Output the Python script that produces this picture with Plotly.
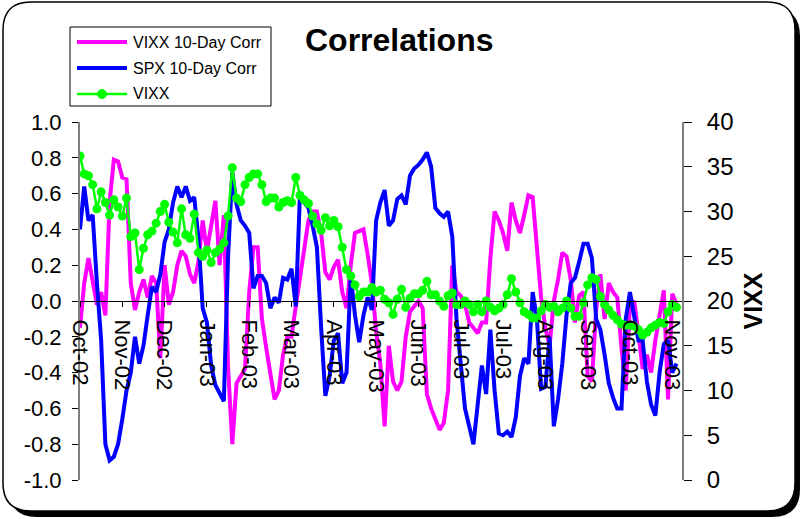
import plotly.graph_objects as go

# Category labels along the x axis (one every ten observations)
month_labels = ["Oct-02", "Nov-02", "Dec-02", "Jan-03", "Feb-03", "Mar-03", "Apr-03",
                "May-03", "Jun-03", "Jul-03", "Jul-03", "Aug-03", "Sep-03", "Oct-03", "Nov-03"]

# 10-day rolling correlations (left axis)
vixx_corr = [-0.15, 0.10, 0.24, 0.10, -0.02, 0.05, -0.08, 0.55, 0.79, 0.78,
             0.69, 0.68, 0.10, -0.05, 0.05, 0.12, 0.02, 0.14, 0.10, -0.32,
             0.20, -0.02, 0.05, 0.20, 0.28, 0.25, 0.15, 0.10, 0.22, 0.45,
             0.28, 0.42, 0.56, 0.20, 0.48, -0.37, -0.80, -0.46, -0.42, -0.38,
             0.05, 0.30, 0.30, -0.10, -0.26, -0.40, -0.55, -0.50, -0.30, -0.20,
             -0.20, -0.03, 0.13, 0.32, 0.45, 0.50, 0.50, 0.38, 0.16, 0.12,
             0.19, 0.23, 0.05, -0.04, 0.20, 0.38, 0.39, 0.40, 0.26, 0.10,
             -0.17, -0.35, -0.70, -0.25, -0.45, -0.50, -0.45, -0.20, -0.06, -0.03,
             0.00, -0.04, -0.52, -0.60, -0.66, -0.72, -0.68, -0.50, 0.20, 0.05,
             0.03, -0.02, -0.12, -0.15, -0.18, -0.12, -0.12, 0.24, 0.50, 0.45,
             0.38, 0.28, 0.55, 0.45, 0.38, 0.48, 0.59, 0.58, 0.30, 0.02,
             -0.15, -0.25, 0.00, 0.12, 0.27, 0.25, 0.12, -0.12, 0.03, 0.05,
             -0.42, -0.45, -0.05, 0.15, -0.10, 0.10, 0.05, 0.02, -0.26, -0.50,
             -0.02, 0.00, -0.18, -0.38, -0.30, -0.40, -0.22, -0.08, 0.06, -0.55,
             0.04, -0.02]

spx_corr = [0.40, 0.64, 0.45, 0.48, 0.10, -0.22, -0.80, -0.89, -0.87, -0.80,
            -0.66, -0.50, -0.40, -0.20, -0.35, -0.25, -0.08, 0.08, 0.05, 0.15,
            0.33, 0.40, 0.55, 0.64, 0.58, 0.64, 0.56, 0.58, 0.35, -0.04,
            -0.12, -0.36, -0.47, -0.52, -0.56, 0.25, 0.72, 0.54, 0.45, 0.42,
            0.38, 0.07, 0.14, 0.14, 0.10, -0.04, 0.02, -0.01, 0.13, 0.12,
            0.18, -0.03, 0.60, 0.55, 0.52, 0.42, 0.30, -0.15, -0.53, -0.42,
            -0.22, -0.18, -0.46, -0.40, 0.14, -0.08, -0.23, -0.08, 0.02, -0.05,
            0.45, 0.55, 0.62, 0.42, 0.45, 0.57, 0.59, 0.54, 0.70, 0.74,
            0.76, 0.79, 0.83, 0.75, 0.52, 0.49, 0.47, 0.50, 0.36, -0.10,
            -0.38, -0.60, -0.70, -0.80, -0.58, -0.36, -0.52, -0.16, -0.50, -0.74,
            -0.75, -0.73, -0.76, -0.65, -0.42, -0.32, -0.35, 0.05, -0.10, -0.49,
            -0.48, -0.20, -0.70, -0.55, -0.35, -0.08, 0.10, 0.13, 0.22, 0.32,
            0.32, 0.24, -0.10, -0.16, -0.30, -0.46, -0.54, -0.60, -0.60, -0.10,
            0.05, -0.10, -0.22, -0.22, -0.45, -0.58, -0.64, -0.40, -0.24, -0.22,
            -0.40, -0.35]

# VIXX level (right axis)
vixx = [36.2, 34.2, 34.0, 33.0, 30.3, 32.2, 31.0, 29.6, 31.3, 30.5,
        29.5, 31.5, 27.2, 27.6, 23.5, 25.9, 27.4, 27.8, 28.7, 30.0,
        30.8, 28.8, 27.7, 26.5, 30.3, 27.4, 27.0, 29.7, 25.4, 25.0,
        25.7, 24.3, 25.4, 25.8, 26.5, 29.5, 34.9, 31.5, 31.1, 33.0,
        33.8, 34.2, 34.2, 33.0, 31.1, 31.5, 31.5, 30.5, 31.0, 31.2,
        31.0, 33.8, 31.8, 31.3, 30.9, 29.5, 28.6, 27.9, 29.3, 28.4,
        29.0, 28.3, 26.0, 23.5, 22.8, 21.8, 20.5, 21.0, 21.0, 21.5,
        21.0, 21.2, 20.2, 19.8, 18.5, 20.2, 21.3, 19.3, 20.3, 20.8,
        20.8, 21.2, 22.2, 20.7, 20.7, 20.0, 19.4, 20.6, 20.9, 19.6,
        19.6, 20.0, 19.6, 18.8, 19.6, 18.8, 20.0, 19.3, 18.9, 19.2,
        19.6, 20.7, 22.5, 21.0, 19.8, 18.8, 18.5, 18.1, 18.1, 18.9,
        19.6, 19.3, 19.4, 18.8, 19.2, 20.0, 19.2, 18.3, 18.3, 19.8,
        21.8, 22.6, 22.4, 20.5, 19.6, 19.0, 18.4, 17.9, 17.4, 17.3,
        17.3, 17.2, 16.8, 16.2, 16.5, 17.0, 17.3, 17.6, 17.5, 18.8,
        19.6, 19.3]

left_ticks = [-1.0, -0.8, -0.6, -0.4, -0.2, 0.0, 0.2, 0.4, 0.6, 0.8, 1.0]
left_tick_text = ["-1.0", "-0.8", "-0.6", "-0.4", "-0.2", "0.0", "0.2", "0.4", "0.6", "0.8", "1.0"]
right_ticks = [0, 5, 10, 15, 20, 25, 30, 35, 40]

obs = list(range(len(spx_corr)))
label_pos = list(range(0, 10 * len(month_labels), 10))

FONT = "Liberation Sans, Arial, sans-serif"
W, H = 802, 519
L, R, T, B = 80, 682, 122, 480


def px(x):
    return (x - L) / (R - L)


def py(y):
    return (B - y) / (B - T)


def rounded_rect(x0, y0, x1, y1, r):
    pts = [("M", (x0 + r, y0)), ("L", (x1 - r, y0)), ("Q", (x1, y0), (x1, y0 + r)),
           ("L", (x1, y1 - r)), ("Q", (x1, y1), (x1 - r, y1)), ("L", (x0 + r, y1)),
           ("Q", (x0, y1), (x0, y1 - r)), ("L", (x0, y0 + r)), ("Q", (x0, y0), (x0 + r, y0))]
    out = []
    for cmd, *ps in pts:
        out.append(cmd + " " + " ".join(f"{px(a):.5f},{py(b):.5f}" for a, b in ps))
    return " ".join(out) + " Z"


fig = go.Figure()
fig.add_trace(go.Scatter(x=obs, y=vixx_corr, mode="lines", name="VIXX 10-Day Corr",
                         line=dict(color="#FF00FF", width=4)))
fig.add_trace(go.Scatter(x=obs, y=spx_corr, mode="lines", name="SPX 10-Day Corr",
                         line=dict(color="#0000FF", width=4)))
fig.add_trace(go.Scatter(x=obs, y=vixx, mode="lines+markers", name="VIXX", yaxis="y2",
                         line=dict(color="#00FF00", width=2.5),
                         marker=dict(color="#00FF00", size=9)))

shapes = [
    # chart frame with drop shadow
    dict(type="path", xref="paper", yref="paper", layer="below",
         path=rounded_rect(9, 8, 800, 517, 28), fillcolor="black", line=dict(width=0)),
    dict(type="path", xref="paper", yref="paper", layer="below",
         path=rounded_rect(3, 2, 795, 511, 28), fillcolor="white",
         line=dict(color="black", width=1.5)),
    # legend box
    dict(type="rect", xref="paper", yref="paper", x0=px(70), x1=px(271), y0=py(106), y1=py(27),
         fillcolor="white", line=dict(color="black", width=1)),
]
legend_rows = [("VIXX 10-Day Corr", "#FF00FF", 4, 42),
               ("SPX 10-Day Corr", "#0000FF", 4, 68),
               ("VIXX", "#00FF00", 2.5, 94)]
annotations = [dict(text="<b>Correlations</b>", x=px(399), y=py(40), xref="paper", yref="paper",
                    xanchor="center", yanchor="middle", showarrow=False,
                    font=dict(family=FONT, size=32, color="black"))]
for label, color, width, yy in legend_rows:
    shapes.append(dict(type="line", xref="paper", yref="paper", x0=px(77), x1=px(127),
                       y0=py(yy), y1=py(yy), line=dict(color=color, width=width)))
    annotations.append(dict(text=label, x=px(131), y=py(yy), xref="paper", yref="paper",
                            xanchor="left", yanchor="middle", showarrow=False,
                            font=dict(family=FONT, size=16, color="black")))
shapes.append(dict(type="circle", xref="paper", yref="paper", x0=px(97.5), x1=px(106.5),
                   y0=py(98.5), y1=py(89.5), fillcolor="#00FF00", line=dict(color="#00FF00", width=1)))

fig.update_layout(
    width=W, height=H, autosize=False,
    margin=dict(l=L, r=W - R, t=T, b=H - B, pad=0),
    paper_bgcolor="white", plot_bgcolor="rgba(0,0,0,0)",
    showlegend=False,
    font=dict(family=FONT, color="black"),
    shapes=shapes, annotations=annotations,
    xaxis=dict(range=[0, 142.3], anchor="free", position=0.5, showline=True,
               linecolor="black", linewidth=1, ticks="outside", ticklen=5, tickcolor="black",
               tickvals=label_pos, ticktext=month_labels, tickangle=90,
               tickfont=dict(size=22, family=FONT), ticklabelstandoff=8,
               showgrid=False, zeroline=False),
    xaxis2=dict(range=[0, 142.3], overlaying="x", anchor="free", position=0.5,
                ticks="inside", ticklen=5, tickcolor="black", tickvals=label_pos,
                showticklabels=False, showline=False, showgrid=False, zeroline=False),
    yaxis=dict(range=[-1, 1], tickvals=left_ticks, ticktext=left_tick_text, showline=True,
               linecolor="#808080", linewidth=2, ticks="outside", ticklen=6, tickcolor="black",
               tickfont=dict(size=22, family=FONT), ticklabelstandoff=6,
               showgrid=False, zeroline=False),
    yaxis2=dict(range=[0, 40], tickvals=right_ticks, overlaying="y", side="right",
                showline=True, linecolor="#808080", linewidth=2, ticks="outside", ticklen=8,
                tickcolor="black", tickfont=dict(size=24, family=FONT), ticklabelstandoff=10,
                title=dict(text="<b>VIXX</b>", font=dict(size=25, family=FONT), standoff=12),
                showgrid=False, zeroline=False),
    yaxis3=dict(range=[-1, 1], tickvals=left_ticks, overlaying="y", side="left", anchor="x",
                ticks="inside", ticklen=6, tickcolor="black", showticklabels=False,
                showline=False, showgrid=False, zeroline=False),
    yaxis4=dict(range=[0, 40], tickvals=right_ticks, overlaying="y", side="right", anchor="x",
                ticks="inside", ticklen=9, tickcolor="black", showticklabels=False,
                showline=False, showgrid=False, zeroline=False),
)

fig.write_html("out.html")
